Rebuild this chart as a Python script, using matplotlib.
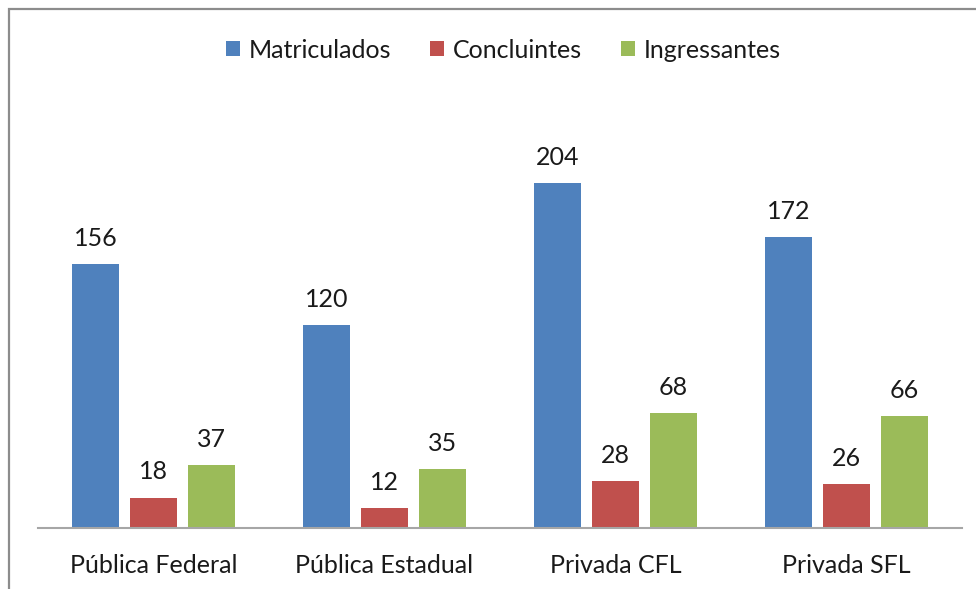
import matplotlib
matplotlib.use("Agg")
import matplotlib.pyplot as plt
import numpy as np
from matplotlib.patches import Rectangle

# data
categorias = ["Pública Federal", "Pública Estadual", "Privada CFL", "Privada SFL"]
matriculados = [156, 120, 204, 172]
concluintes = [18, 12, 28, 26]
ingressantes = [37, 35, 68, 66]

series = ["Matriculados", "Concluintes", "Ingressantes"]
cores = ["#4F81BD", "#C0504D", "#9BBB59"]

plt.rcParams['font.family'] = ['Lato', 'DejaVu Sans']

fig = plt.figure(figsize=(9.76, 5.89), dpi=100)
ax = fig.add_axes([38/976, 1 - 528/589, 924/976, (528 - 105)/589])

x = np.arange(len(categorias))
largura = 0.203
passo = 0.251
for i, (nome, valores, cor) in enumerate(zip(series, [matriculados, concluintes, ingressantes], cores)):
    pos = x + (i - 1) * passo
    barras = ax.bar(pos, valores, largura, color=cor, label=nome, zorder=2)
    for xb, v in zip(pos, valores):
        ax.annotate(str(v), (xb, v), xytext=(0, 13), textcoords='offset points',
                    ha='center', va='baseline', fontsize=18, color='#1a1a1a')

ax.set_xlim(-0.5, 3.5)
ax.set_ylim(0, 250)
ax.set_xticks(x)
ax.set_xticklabels(categorias, fontsize=18, color='#1a1a1a')
ax.tick_params(axis='x', length=0, pad=19)
ax.set_yticks([])
for lado in ['top', 'right', 'left']:
    ax.spines[lado].set_visible(False)
ax.spines['bottom'].set_color('#A6A6A6')
ax.spines['bottom'].set_linewidth(1.5)
ax.spines['bottom'].set_zorder(3)

leg = fig.legend(loc='center', bbox_to_anchor=(503.5/976, 1 - 50/589), ncol=3, frameon=False,
                 fontsize=18, handlelength=0.56, handleheight=0.56, handletextpad=0.36,
                 columnspacing=1.56)
for t in leg.get_texts():
    t.set_color('#1a1a1a')

# moldura cinza do grafico
fig.patches.append(Rectangle((9/976, -0.1), 1.2, 1.1 - 9/589, transform=fig.transFigure,
                             fill=False, edgecolor='#8C8C8C', linewidth=1.6))

fig.savefig("out.png", dpi=100)
